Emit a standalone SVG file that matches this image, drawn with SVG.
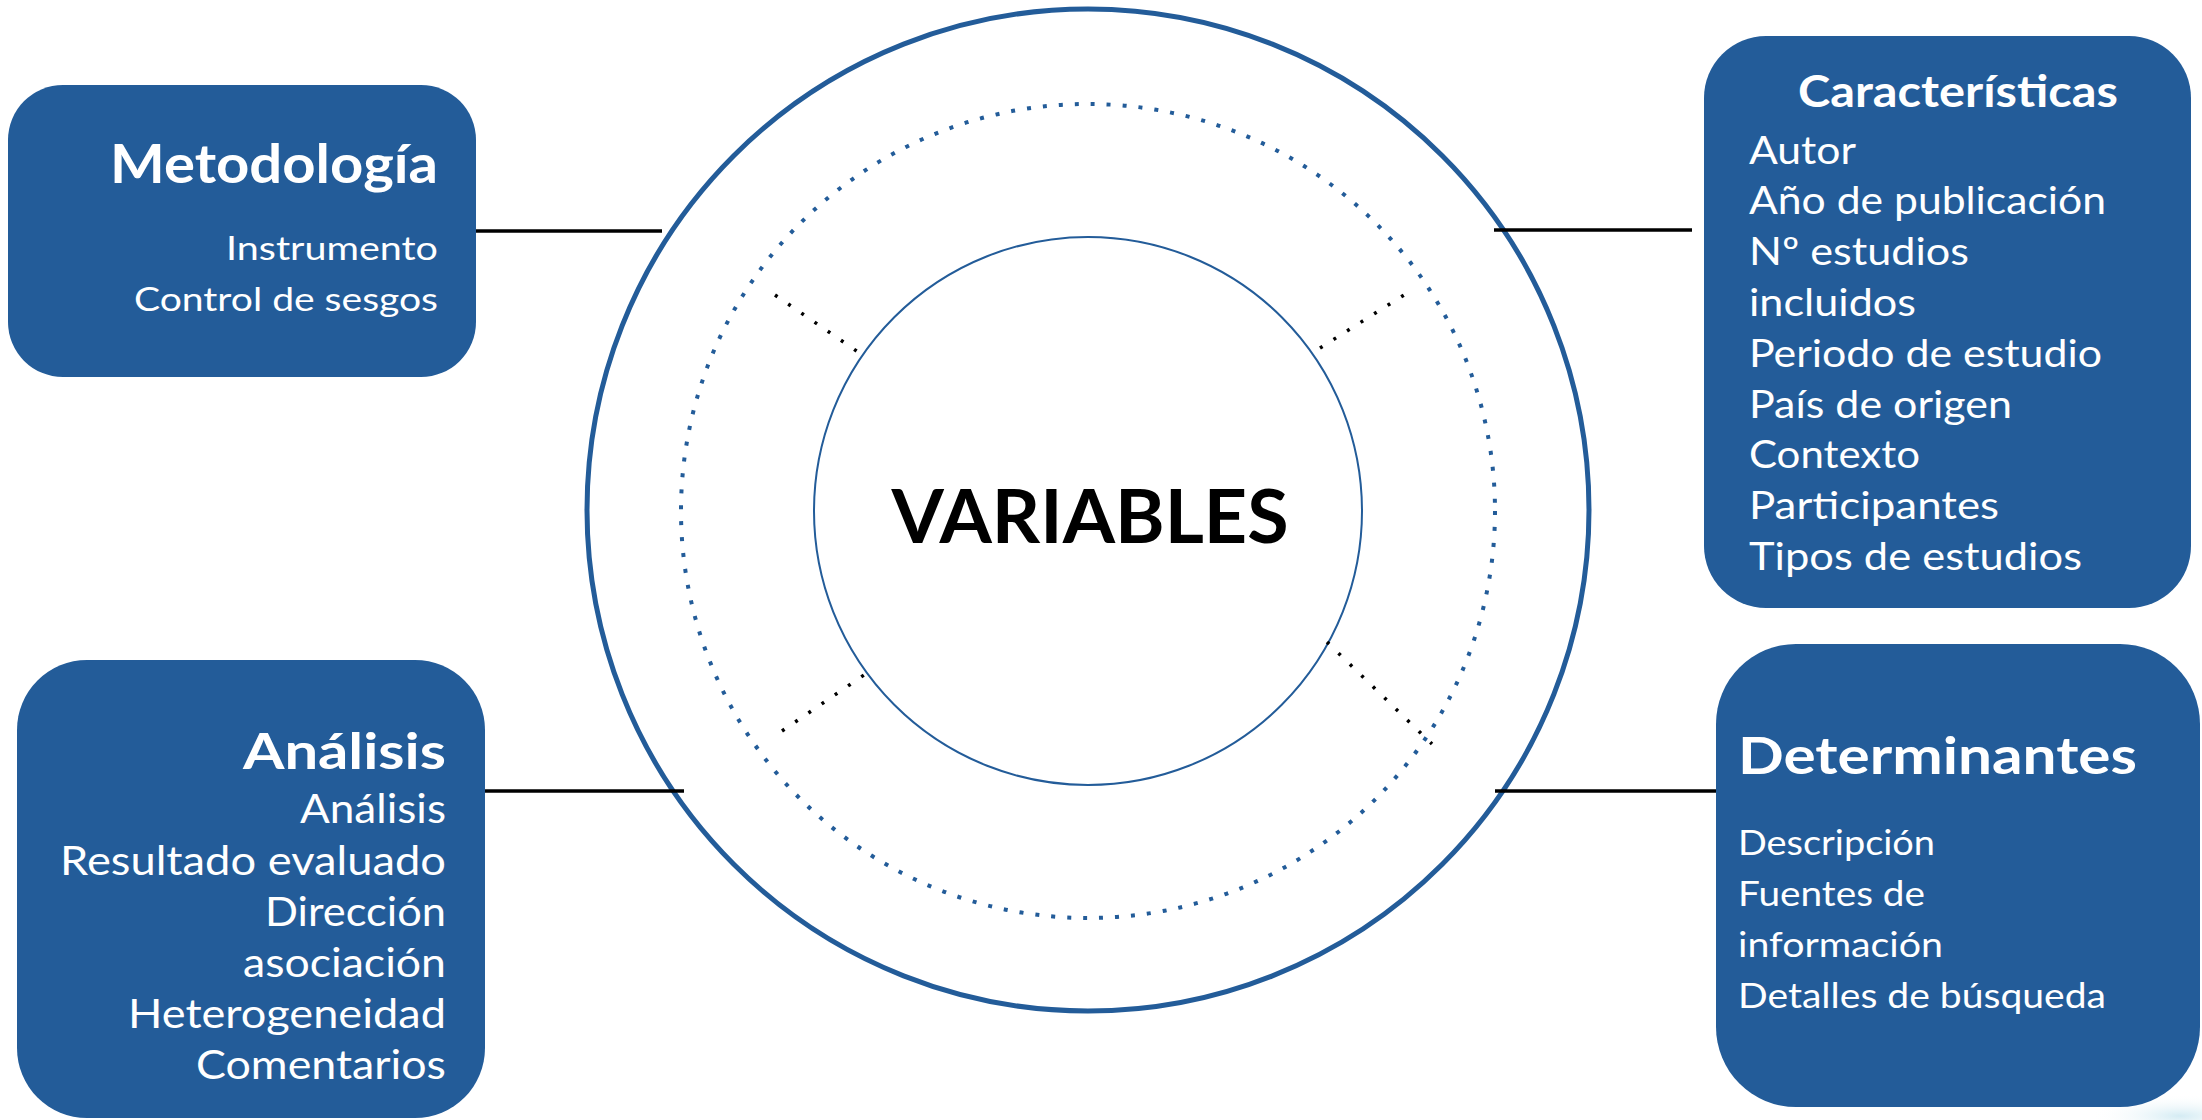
<svg xmlns="http://www.w3.org/2000/svg" width="2202" height="1120" viewBox="0 0 2202 1120">
<style>
.box{fill:#235c99;}
.t{font-family:Lato,"Open Sans","Noto Sans",sans-serif;fill:#ffffff;}
.h{font-weight:bold;}
.conn{stroke:#000000;stroke-width:3.5;fill:none;}
.dot{stroke:#000000;stroke-width:3.5;stroke-dasharray:3 13;fill:none;}
.ring{fill:none;stroke:#235c99;}
</style>
<defs>
<radialGradient id="glow" cx="0.5" cy="0.5" r="0.5">
<stop offset="0" stop-color="#cfe9f2" stop-opacity="0.9"/>
<stop offset="1" stop-color="#ffffff" stop-opacity="0"/>
</radialGradient>
</defs>
<rect width="2202" height="1120" fill="#ffffff"/>
<ellipse cx="2180" cy="1116" rx="90" ry="22" fill="url(#glow)"/>

<g id="circles">
<circle class="ring" cx="1088" cy="510" r="501" stroke-width="5"/>
<circle class="ring" cx="1088" cy="511" r="407" stroke-width="4" stroke-dasharray="4 12"/>
<circle class="ring" cx="1088" cy="511" r="274" stroke-width="2"/>
<text x="1090" y="543" text-anchor="middle" font-family="Lato,'Open Sans',sans-serif" font-weight="bold" font-size="75" fill="#000000" textLength="397" lengthAdjust="spacingAndGlyphs">VARIABLES</text>
</g>

<g id="connectors">
<line class="conn" x1="476" y1="231" x2="662" y2="231"/>
<line class="conn" x1="1494" y1="230" x2="1692" y2="230"/>
<line class="conn" x1="485" y1="791" x2="684" y2="791"/>
<line class="conn" x1="1495" y1="791" x2="1716" y2="791"/>
<line class="dot" x1="775" y1="295" x2="858" y2="352"/>
<line class="dot" x1="1320" y1="348" x2="1404" y2="295"/>
<line class="dot" x1="782" y1="731" x2="864" y2="675"/>
<line class="dot" x1="1327" y1="642" x2="1432" y2="744"/>
</g>

<g id="metodologia">
<rect class="box" x="8" y="85" width="468" height="292" rx="55"/>
<text class="t h" x="438" y="183" text-anchor="end" font-size="53" textLength="328" lengthAdjust="spacingAndGlyphs">Metodología</text>
<text class="t" x="438" y="260" text-anchor="end" font-size="33" textLength="212" lengthAdjust="spacingAndGlyphs">Instrumento</text>
<text class="t" x="438" y="311" text-anchor="end" font-size="33" textLength="304" lengthAdjust="spacingAndGlyphs">Control de sesgos</text>
</g>

<g id="caracteristicas">
<rect class="box" x="1704" y="36" width="487" height="572" rx="62"/>
<text class="t h" x="1798" y="107" font-size="44" textLength="320" lengthAdjust="spacingAndGlyphs">Características</text>
<text class="t" x="1749" y="164" font-size="38.5" textLength="107" lengthAdjust="spacingAndGlyphs">Autor</text>
<text class="t" x="1749" y="214" font-size="38.5" textLength="357" lengthAdjust="spacingAndGlyphs">Año de publicación</text>
<text class="t" x="1749" y="265" font-size="38.5" textLength="220" lengthAdjust="spacingAndGlyphs">Nº estudios</text>
<text class="t" x="1749" y="316" font-size="38.5" textLength="167" lengthAdjust="spacingAndGlyphs">incluidos</text>
<text class="t" x="1749" y="367" font-size="38.5" textLength="353" lengthAdjust="spacingAndGlyphs">Periodo de estudio</text>
<text class="t" x="1749" y="418" font-size="38.5" textLength="263" lengthAdjust="spacingAndGlyphs">País de origen</text>
<text class="t" x="1749" y="468" font-size="38.5" textLength="171" lengthAdjust="spacingAndGlyphs">Contexto</text>
<text class="t" x="1749" y="519" font-size="38.5" textLength="250" lengthAdjust="spacingAndGlyphs">Participantes</text>
<text class="t" x="1749" y="570" font-size="38.5" textLength="333" lengthAdjust="spacingAndGlyphs">Tipos de estudios</text>
</g>

<g id="analisis">
<rect class="box" x="17" y="660" width="468" height="458" rx="70"/>
<text class="t h" x="446" y="769" text-anchor="end" font-size="50" textLength="203" lengthAdjust="spacingAndGlyphs">Análisis</text>
<text class="t" x="446" y="823" text-anchor="end" font-size="41.5" textLength="146" lengthAdjust="spacingAndGlyphs">Análisis</text>
<text class="t" x="446" y="875" text-anchor="end" font-size="41.5" textLength="386" lengthAdjust="spacingAndGlyphs">Resultado evaluado</text>
<text class="t" x="446" y="926" text-anchor="end" font-size="41.5" textLength="181" lengthAdjust="spacingAndGlyphs">Dirección</text>
<text class="t" x="446" y="977" text-anchor="end" font-size="41.5" textLength="203" lengthAdjust="spacingAndGlyphs">asociación</text>
<text class="t" x="446" y="1028" text-anchor="end" font-size="41.5" textLength="318" lengthAdjust="spacingAndGlyphs">Heterogeneidad</text>
<text class="t" x="446" y="1079" text-anchor="end" font-size="41.5" textLength="250" lengthAdjust="spacingAndGlyphs">Comentarios</text>
</g>

<g id="determinantes">
<rect class="box" x="1716" y="644" width="484" height="463" rx="80"/>
<text class="t h" x="1738" y="774" font-size="52" textLength="399" lengthAdjust="spacingAndGlyphs">Determinantes</text>
<text class="t" x="1738" y="855" font-size="35" textLength="197" lengthAdjust="spacingAndGlyphs">Descripción</text>
<text class="t" x="1738" y="906" font-size="35" textLength="187" lengthAdjust="spacingAndGlyphs">Fuentes de</text>
<text class="t" x="1738" y="957" font-size="35" textLength="205" lengthAdjust="spacingAndGlyphs">información</text>
<text class="t" x="1738" y="1008" font-size="35" textLength="368" lengthAdjust="spacingAndGlyphs">Detalles de búsqueda</text>
</g>
</svg>
